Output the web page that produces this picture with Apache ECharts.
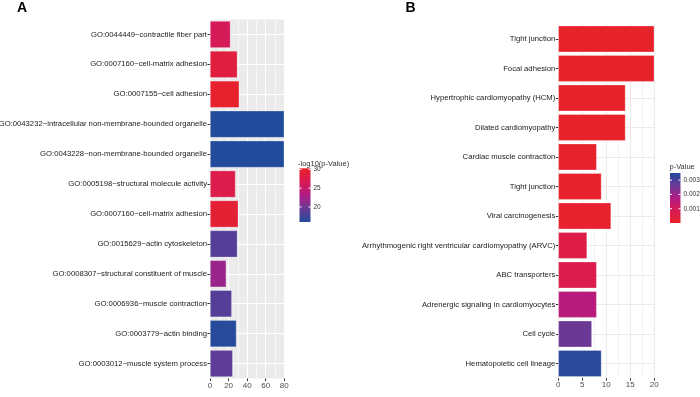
<!DOCTYPE html>
<html>
<head>
<meta charset="utf-8">
<script src="https://cdn.jsdelivr.net/npm/echarts@6/dist/echarts.min.js"></script>
<style>
  html, body { margin: 0; padding: 0; background: #fff; }
  #main { width: 700px; height: 397px; }
</style>
</head>
<body>
<div id="main"></div>
<script>
// panel A: GO terms
var goTerms = [
  "GO:0044449~contractile fiber part",
  "GO:0007160~cell-matrix adhesion",
  "GO:0007155~cell adhesion",
  "GO:0043232~intracellular non-membrane-bounded organelle",
  "GO:0043228~non-membrane-bounded organelle",
  "GO:0005198~structural molecule activity",
  "GO:0007160~cell-matrix adhesion",
  "GO:0015629~actin cytoskeleton",
  "GO:0008307~structural constituent of muscle",
  "GO:0006936~muscle contraction",
  "GO:0003779~actin binding",
  "GO:0003012~muscle system process"
];
var goCount = [22, 29.5, 31.5, 80, 80, 27.5, 30.5, 29.5, 17.5, 23.5, 28.5, 24.5];
var goLogP = [26.5, 28.5, 30, 16, 16, 27.5, 29.5, 18.5, 22, 18.5, 16.2, 19];
var goTicks = [30, 25, 20];

// panel B: KEGG pathways
var keggTerms = [
  "Tight junction",
  "Focal adhesion",
  "Hypertrophic cardiomyopathy (HCM)",
  "Dilated cardiomyopathy",
  "Cardiac muscle contraction",
  "Tight junction",
  "Viral carcinogenesis",
  "Arrhythmogenic right ventricular cardiomyopathy (ARVC)",
  "ABC transporters",
  "Adrenergic signaling in cardiomyocytes",
  "Cell cycle",
  "Hematopoietic cell lineage"
];
var keggCount = [20, 20, 14, 14, 8, 9, 11, 6, 8, 8, 7, 9];
var keggP = [0.00002, 0.00002, 0.00003, 0.00003, 0.00004, 0.00005, 0.00008, 0.0006, 0.0007, 0.0016, 0.0026, 0.0034];
var keggTicks = [0.003, 0.002, 0.001];

var ramp = ["#234B9B", "#6A3996", "#B01C84", "#D81A55", "#E8222A"];
var font = "Liberation Sans, Arial, sans-serif";

var chartDom = document.getElementById("main");
var myChart = echarts.init(chartDom);

// colour bar drawn as a gradient rect, ticks placed from the scale
function barLegend(min, max, left, top, w, h, colors, ticks, fmt) {
  var stops = colors.map(function (c, i) {
    return { offset: i / (colors.length - 1), color: c };
  });
  var out = [{
    type: "rect",
    shape: { x: left, y: top, width: w, height: h },
    style: { fill: new echarts.graphic.LinearGradient(0, 0, 0, 1, stops) },
    z: 99
  }];
  ticks.forEach(function (t) {
    var y = top + (max - t) / (max - min) * h;
    out.push({ type: "line", shape: { x1: left, y1: y, x2: left + 2, y2: y }, style: { stroke: "#fff", lineWidth: 1 }, z: 100 });
    out.push({ type: "line", shape: { x1: left + w - 2, y1: y, x2: left + w, y2: y }, style: { stroke: "#fff", lineWidth: 1 }, z: 100 });
    out.push({ type: "text", x: left + w + 3, y: y, style: { text: fmt(t), fontSize: 6.5, fill: "#333", fontFamily: font, verticalAlign: "middle" }, z: 100 });
  });
  return out;
}

var legA = { min: 16, max: 30.3, left: 299.5, top: 168.3, w: 11, h: 53.7 };
var legB = { min: 0, max: 0.0035, left: 670, top: 173, w: 10.5, h: 50 };

var graphics = [
  { type: "text", left: 17, top: 1, style: { text: "A", fontSize: 14, fontWeight: "bold", fill: "#000", fontFamily: font } },
  { type: "text", left: 405.5, top: 1, style: { text: "B", fontSize: 14, fontWeight: "bold", fill: "#000", fontFamily: font } },
  { type: "text", x: 298, y: 164, style: { text: "-log10(p-Value)", fontSize: 7.5, fill: "#333", fontFamily: font, verticalAlign: "middle" } },
  { type: "text", x: 669.5, y: 166.5, style: { text: "p-Value", fontSize: 7.5, fill: "#333", fontFamily: font, verticalAlign: "middle" } }
].concat(
  barLegend(legA.min, legA.max, legA.left, legA.top, legA.w, legA.h, ramp.slice().reverse(), goTicks, function (v) { return String(v); }),
  barLegend(legB.min, legB.max, legB.left, legB.top, legB.w, legB.h, ramp, keggTicks, function (v) { return v.toFixed(3); })
);

function catAxis(idx, terms, lineColor) {
  return {
    type: "category",
    gridIndex: idx,
    data: terms,
    inverse: true,
    axisLine: { show: false },
    axisTick: { show: true, alignWithLabel: true, length: 2.5, lineStyle: { color: "#333", width: 1 } },
    axisLabel: { interval: 0, fontSize: 7.7, color: "#1a1a1a", margin: 3, fontFamily: font },
    splitLine: { show: true, alignWithLabel: true, lineStyle: { color: lineColor, width: 1 } }
  };
}

function valAxis(idx, max, interval, lineColor) {
  return {
    type: "value",
    gridIndex: idx,
    min: 0,
    max: max,
    interval: interval,
    axisLine: { show: false },
    axisTick: { show: true, length: 2.5, lineStyle: { color: "#333", width: 1 } },
    axisLabel: { fontSize: 8, color: "#4d4d4d", margin: 3, fontFamily: font },
    splitLine: { show: true, lineStyle: { color: lineColor, width: 1.1 } },
    minorTick: { show: false, splitNumber: 2 },
    minorSplitLine: { show: true, lineStyle: { color: lineColor, width: 0.6 } }
  };
}

var option = {
  animation: false,
  textStyle: { fontFamily: font },
  grid: [
    { left: 210, top: 19.5, width: 74.3, height: 359, show: true, backgroundColor: "#EBEBEB", borderWidth: 0, containLabel: false, outerBoundsMode: "none" },
    { left: 558.3, top: 24.2, width: 96, height: 354, show: false, containLabel: false, outerBoundsMode: "none" }
  ],
  xAxis: [valAxis(0, 80, 20, "#fff"), valAxis(1, 20, 5, "#EBEBEB")],
  yAxis: [catAxis(0, goTerms, "#fff"), catAxis(1, keggTerms, "#EBEBEB")],
  visualMap: [
    {
      type: "continuous", show: false, seriesIndex: 0, dimension: 2,
      min: legA.min, max: legA.max, inRange: { color: ramp }
    },
    {
      type: "continuous", show: false, seriesIndex: 1, dimension: 2,
      min: legB.min, max: legB.max, inRange: { color: ramp.slice().reverse() }
    }
  ],
  graphic: graphics,
  series: [
    {
      type: "bar",
      xAxisIndex: 0,
      yAxisIndex: 0,
      barCategoryGap: "10%",
      encode: { x: 0, y: 1 },
      itemStyle: { borderColor: "rgba(255,255,255,0.45)", borderWidth: 0.6 },
      data: goCount.map(function (v, i) { return [v, i, goLogP[i]]; })
    },
    {
      type: "bar",
      xAxisIndex: 1,
      yAxisIndex: 1,
      barCategoryGap: "10%",
      encode: { x: 0, y: 1 },
      itemStyle: { borderColor: "rgba(255,255,255,0.45)", borderWidth: 0.6 },
      data: keggCount.map(function (v, i) { return [v, i, keggP[i]]; })
    }
  ]
};

option && myChart.setOption(option);
</script>
</body>
</html>
